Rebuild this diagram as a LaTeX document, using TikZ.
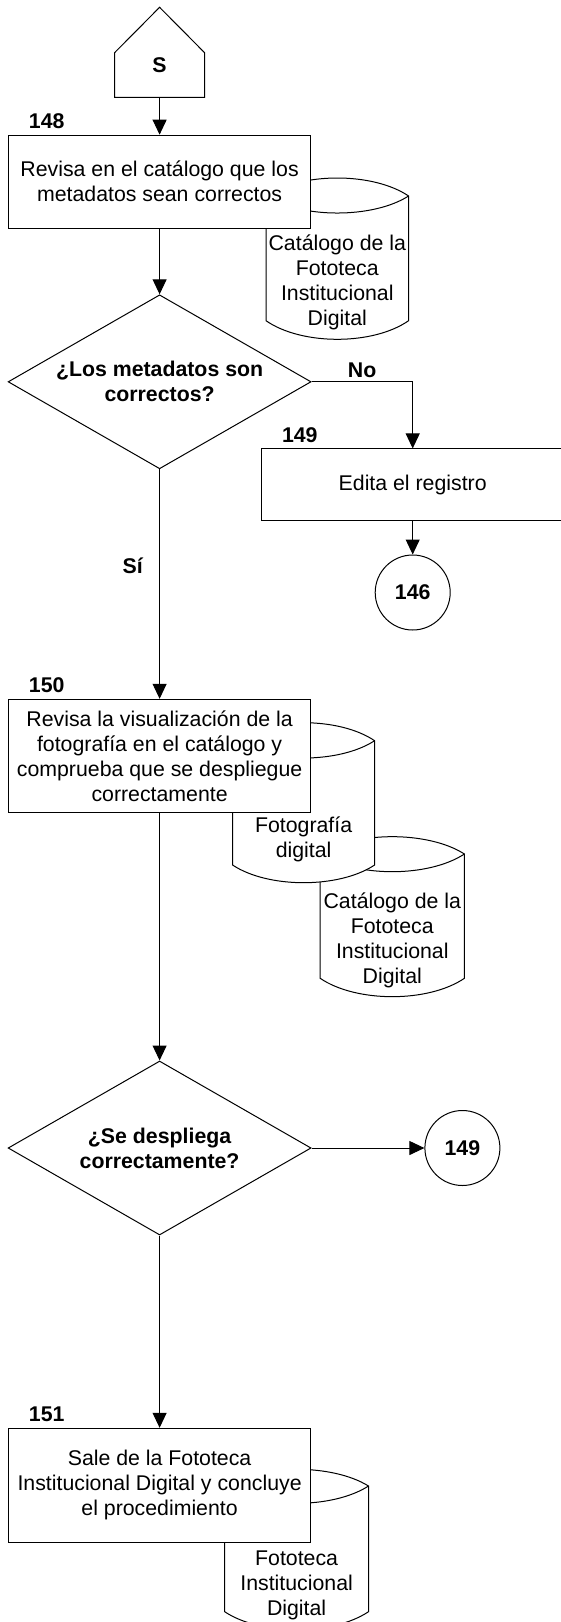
\documentclass[tikz,border=0pt]{standalone}
\usepackage{fontspec}
\setmainfont{Liberation Sans}
\usepackage{tikz}
\usetikzlibrary{positioning}
\usetikzlibrary{arrows.meta, shapes.geometric}

\begin{document}
\begin{tikzpicture}[x=1pt, y=-1pt, line width=1pt, >={Triangle[length=15pt,width=14pt]},
  font=\fontsize{21.3}{25}\selectfont,
  proc/.style = {draw, fill=white, minimum width=302pt, align=center, inner sep=0pt},
  decision/.style = {draw, fill=white, diamond, aspect=1.74, minimum width=303pt, minimum height=174pt, inner sep=0pt, align=center, font=\fontsize{21.3}{25}\selectfont\bfseries},
  conn/.style = {draw, circle, minimum size=75pt, inner sep=0pt, font=\fontsize{21.3}{25}\selectfont\bfseries},
  num/.style = {font=\fontsize{21.3}{25}\selectfont\bfseries}]
\useasboundingbox (0,0) rectangle (561,1622);
% conector de inicio
\draw (114.6,97.3) -- (114.6,52.7) -- (159.6,7.3) -- (204.6,52.7) -- (204.6,97.3) -- cycle;
\node[num] (S) at (159.6,65) {S};
\coordinate (Sout) at (159.6,97.3);
% catalogo
\draw[fill=white] (266,196) .. controls (301.65,172) and (372.95,172) .. (408.6,196) -- (408.6,320.7) .. controls (372.95,345.5) and (301.65,345.5) .. (266,320.7) -- cycle;
\draw (266,196) .. controls (301.65,218.7) and (372.95,218.7) .. (408.6,196);
\node[align=center] (cat1) at (337.3,282.4) {Catálogo de la\\Fototeca\\Institucional\\Digital};
\node[proc, minimum height=93pt] (p148) at (159.6,181.7) {Revisa en el catálogo que los\\metadatos sean correctos};
\node[num, above right=2pt and 17pt of p148.north west] (n148) {148};
\node[decision] (d1) at (159.6,381.8) {¿Los metadatos son\\correctos?};
\node[proc, minimum height=71.7pt] (p149) at (412.7,484.8) {Edita el registro};
\node[num, above right=2pt and 17pt of p149.north west] (n149) {149};
\node[conn] (c146) at (412.7,592.5) {146};
% catalogo y fotografia
\draw[fill=white] (320.2,854) .. controls (356.25,830.9) and (428.35,830.9) .. (464.4,854) -- (464.4,978.3) .. controls (428.35,1002.8) and (356.25,1002.8) .. (320.2,978.3) -- cycle;
\draw (320.2,854) .. controls (356.25,877.6) and (428.35,877.6) .. (464.4,854);
\node[align=center] (cat2) at (392.3,940.5) {Catálogo de la\\Fototeca\\Institucional\\Digital};
\draw[fill=white] (232.6,740.7) .. controls (268.1,716.7) and (339.1,716.7) .. (374.6,740.7) -- (374.6,865) .. controls (339.1,888.6) and (268.1,888.6) .. (232.6,865) -- cycle;
\draw (232.6,740.7) .. controls (268.1,763.8) and (339.1,763.8) .. (374.6,740.7);
\node[align=center] (foto) at (303.6,839.2) {Fotografía\\digital};
\node[proc, minimum height=113.4pt] (p150) at (159.6,756) {Revisa la visualización de la\\fotografía en el catálogo y\\comprueba que se despliegue\\correctamente};
\node[num, above right=2pt and 17pt of p150.north west] (n150) {150};
\node[decision] (d2) at (159.6,1148) {¿Se despliega\\correctamente?};
\node[conn] (c149) at (462.4,1148) {149};
% fototeca
\draw[fill=white] (224.7,1486) .. controls (260.65,1463.7) and (332.55,1463.7) .. (368.5,1486) -- (368.5,1611.7) .. controls (332.55,1635.7) and (260.65,1635.7) .. (224.7,1611.7) -- cycle;
\draw (224.7,1486) .. controls (260.65,1509.1) and (332.55,1509.1) .. (368.5,1486);
\node[align=center] (fid) at (296.6,1585) {Fototeca\\Institucional\\Digital};
\node[proc, minimum height=114pt] (p151) at (159.6,1485.3) {Sale de la Fototeca\\Institucional Digital y concluye\\el procedimiento};
\node[num, above right=2pt and 17pt of p151.north west] (n151) {151};
\draw[->] (Sout) -- (p148);
\draw[->] (p148) -- (d1);
\draw[->] (d1) -| node[pos=0.25, above, num] {No} (p149);
\draw[->] (p149) -- (c146);
\draw[->] (d1) -- node[pos=0.42, left=13pt, num] {Sí} (p150);
\draw[->] (p150) -- (d2);
\draw[->] (d2) -- (c149);
\draw[->] (d2) -- (p151);
\end{tikzpicture}
\end{document}
